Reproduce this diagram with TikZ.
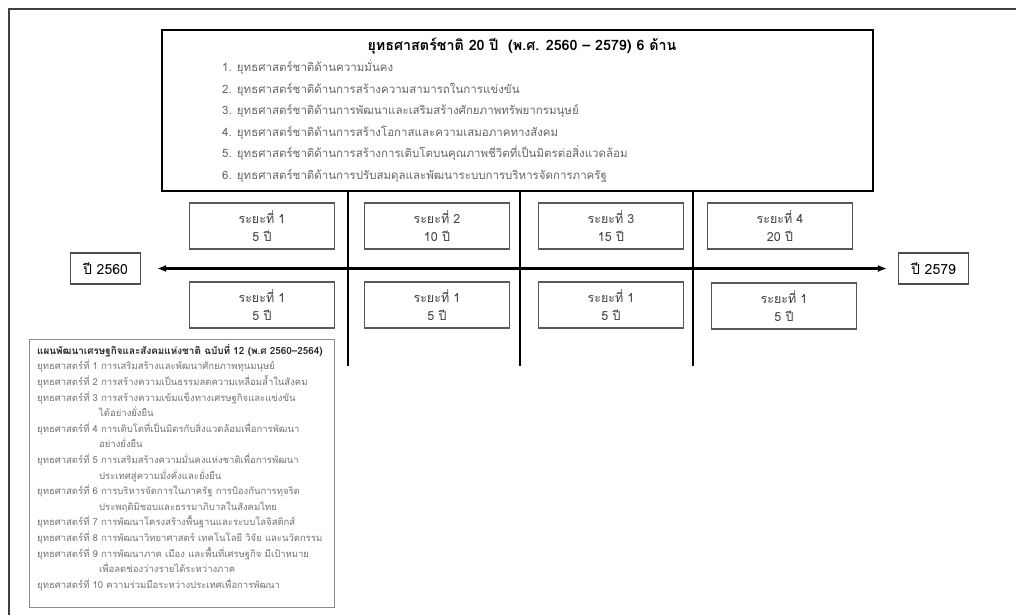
\documentclass[tikz,border=0pt]{standalone}
\usepackage{fontspec}
\newfontfamily\thaifont[Script=Thai]{Loma}
\usetikzlibrary{positioning, backgrounds, shapes, arrows, calc, arrows.meta}
\tikzset{%
  strategy/.style = {draw, line width = 2.2pt, rectangle, minimum width = 711pt,
    minimum height = 161pt},
  period/.style   = {draw = black!65, line width = 1.1pt, rectangle, minimum width = 145pt,
    minimum height = 46pt, align = center, text = black!75,
    font = \thaifont\fontsize{12.5}{18.5}\selectfont},
  year/.style     = {draw = black!70, line width = 1.1pt, rectangle, minimum width = 70pt,
    minimum height = 31pt, font = \thaifont\fontsize{14}{16}\selectfont},
  plan/.style     = {draw = black!45, line width = 1pt, rectangle, anchor = north west,
    minimum width = 305pt, minimum height = 268pt}, % Plan box
  divider/.style  = {line width = 1.3pt} % Divider
}
\newcommand{\shift}{\hspace*{62pt}}

\begin{document}
\begin{tikzpicture}[x = 1pt, y = -1pt]
\useasboundingbox (0,0) rectangle (1016,615);
%frame
\draw[black!75, line width = 1.6pt] (1016,9) -- (9,9) -- (9,615);
%strategy blocks
\draw
	(522,46) node [font = \thaifont\bfseries\fontsize{14.3}{16}\selectfont] (title)
		{ยุทธศาสตร์ชาติ 20 ปี \ (พ.ศ. 2560 – 2579) 6 ด้าน}
	(517.5,110.5) node [strategy] (ns) {}
	(222,121) node [anchor = west, align = left, inner sep = 0pt, text = black!60,
		font = \thaifont\fontsize{11.5}{21.5}\selectfont] (goals)
		{1. ยุทธศาสตร์ชาติด้านความมั่นคง\\
		2. ยุทธศาสตร์ชาติด้านการสร้างความสามารถในการแข่งขัน\\
		3. ยุทธศาสตร์ชาติด้านการพัฒนาและเสริมสร้างศักยภาพทรัพยากรมนุษย์\\
		4. ยุทธศาสตร์ชาติด้านการสร้างโอกาสและความเสมอภาคทางสังคม\\
		5. ยุทธศาสตร์ชาติด้านการสร้างการเติบโตบนคุณภาพชีวิตที่เป็นมิตรต่อสิ่งแวดล้อม\\
		6. ยุทธศาสตร์ชาติด้านการปรับสมดุลและพัฒนาระบบการบริหารจัดการภาครัฐ};
%period blocks
\draw
	(262,226) node [period] (p1) {ระยะที่ 1\\5 ปี}
	(437,226) node [period] (p2) {ระยะที่ 2\\10 ปี}
	(611,226) node [period] (p3) {ระยะที่ 3\\15 ปี}
	(780,226) node [period] (p4) {ระยะที่ 4\\20 ปี}
	(262,305) node [period] (q1) {ระยะที่ 1\\5 ปี}
	(437,305) node [period] (q2) {ระยะที่ 1\\5 ปี}
	(611,305) node [period] (q3) {ระยะที่ 1\\5 ปี}
	(784,306) node [period] (q4) {ระยะที่ 1\\5 ปี};
%year blocks
\draw
	(105.5,268.5) node [year] (y60) {ปี 2560}
	(933.5,268.5) node [year] (y79) {ปี 2579};
%divider lines
\coordinate (d1) at (348,366);
\coordinate (d2) at (520,366);
\coordinate (d3) at (693,366);
\draw[divider] (d1 |- ns.south) -- (d1);
\draw[divider] (d2 |- ns.south) -- (d2);
\draw[divider] (d3 |- ns.south) -- (d3);
%timeline
\draw[<->, >={Latex[length = 9pt, width = 7pt]}, line width = 2.6pt,
	shorten <= 16pt, shorten >= 11pt] (y60) -- (y79);
%plan block
\draw (29,339) node [plan] (pl) {};
\node [anchor = north west, align = left, inner sep = 0pt, text = black!55,
	font = \thaifont\fontsize{9.5}{15.6}\selectfont] (plantext) at (37,344)
	{\textcolor{black!85}{\fontsize{9.9}{15.6}\selectfont\bfseries แผนพัฒนาเศรษฐกิจและสังคมแห่งชาติ ฉบับที่ 12 (พ.ศ 2560–2564)}\\
	ยุทธศาสตร์ที่ 1 การเสริมสร้างและพัฒนาศักยภาพทุนมนุษย์\\
	ยุทธศาสตร์ที่ 2 การสร้างความเป็นธรรมลดความเหลื่อมล้ำในสังคม\\
	ยุทธศาสตร์ที่ 3 การสร้างความเข้มแข็งทางเศรษฐกิจและแข่งขัน\\
	\shift ได้อย่างยั่งยืน\\
	ยุทธศาสตร์ที่ 4 การเติบโตที่เป็นมิตรกับสิ่งแวดล้อมเพื่อการพัฒนา\\
	\shift อย่างยั่งยืน\\
	ยุทธศาสตร์ที่ 5 การเสริมสร้างความมั่นคงแห่งชาติเพื่อการพัฒนา\\
	\shift ประเทศสู่ความมั่งคั่งและยั่งยืน\\
	ยุทธศาสตร์ที่ 6 การบริหารจัดการในภาครัฐ การป้องกันการทุจริต\\
	\shift ประพฤติมิชอบและธรรมาภิบาลในสังคมไทย\\
	ยุทธศาสตร์ที่ 7 การพัฒนาโครงสร้างพื้นฐานและระบบโลจิสติกส์\\
	ยุทธศาสตร์ที่ 8 การพัฒนาวิทยาศาสตร์ เทคโนโลยี วิจัย และนวัตกรรม\\
	ยุทธศาสตร์ที่ 9 การพัฒนาภาค เมือง และพื้นที่เศรษฐกิจ มีเป้าหมาย\\
	\shift เพื่อลดช่องว่างรายได้ระหว่างภาค\\
	ยุทธศาสตร์ที่ 10 ความร่วมมือระหว่างประเทศเพื่อการพัฒนา};
\end{tikzpicture}
\end{document}
